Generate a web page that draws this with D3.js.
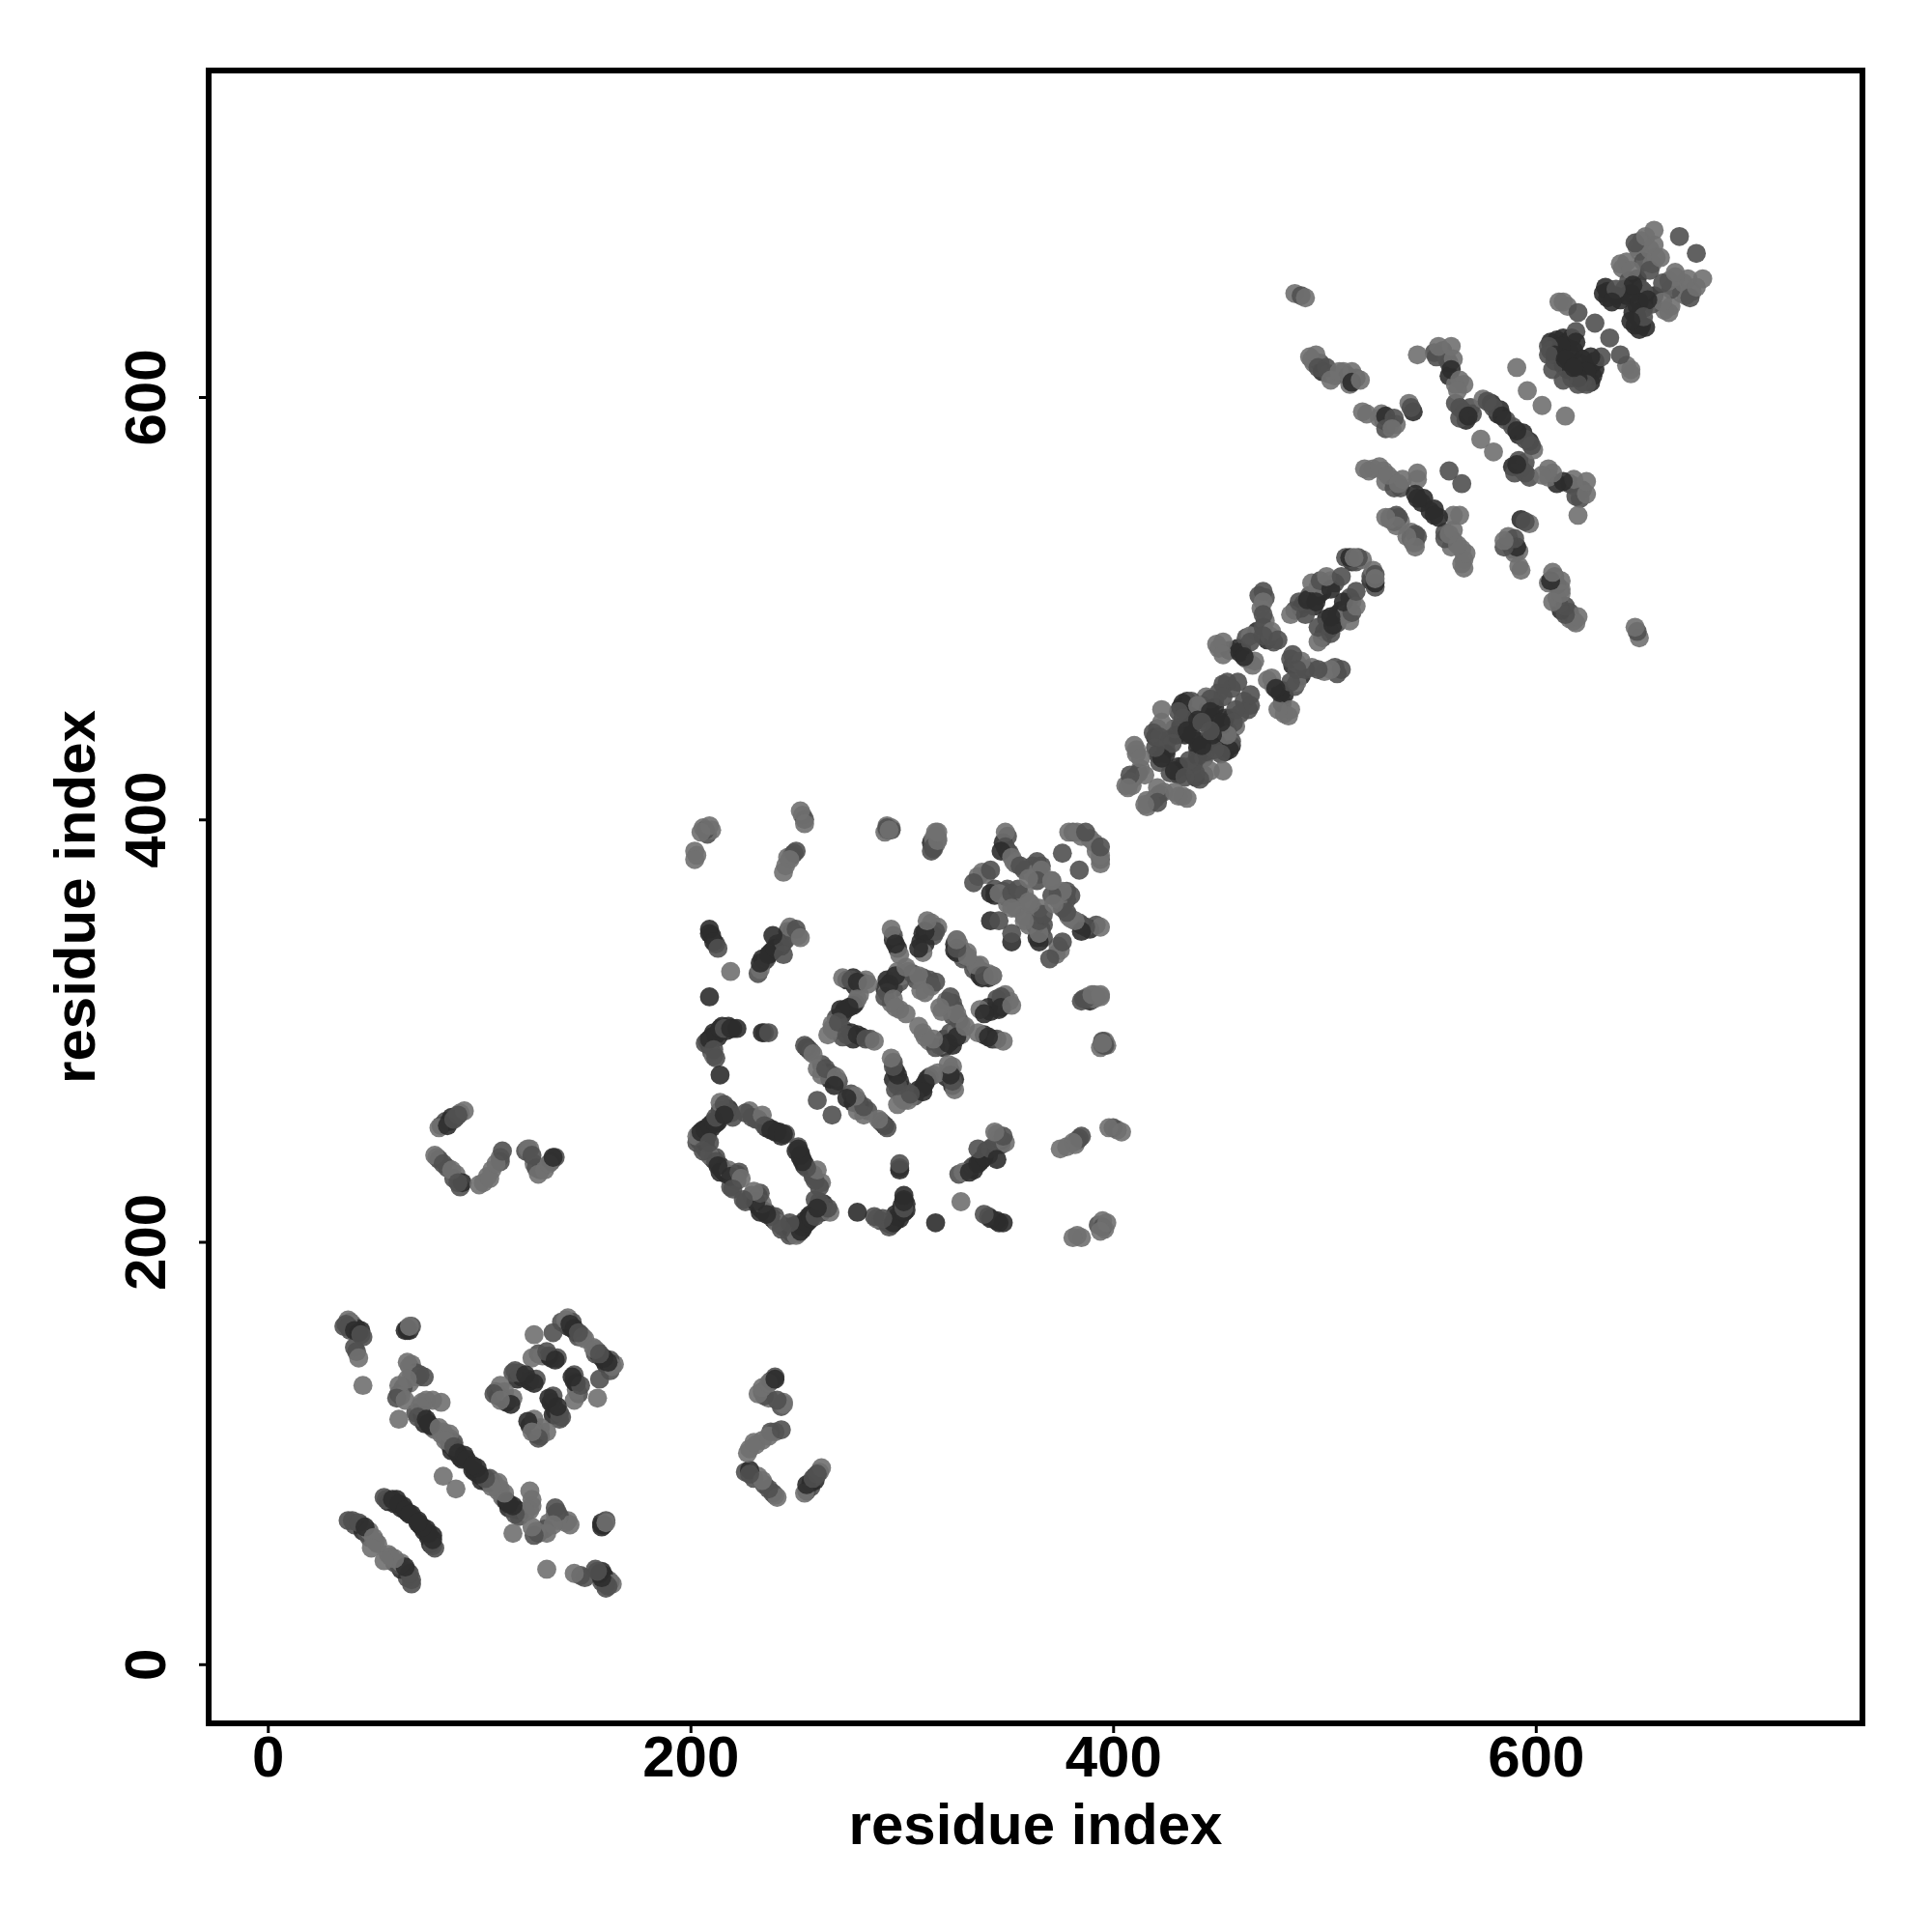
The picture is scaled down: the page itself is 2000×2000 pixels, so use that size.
<!DOCTYPE html>
<html><head><meta charset="utf-8">
<script src="https://cdn.jsdelivr.net/npm/d3@7"></script>
<style>html,body{margin:0;padding:0;background:#fff}svg{display:block}</style>
</head><body><svg id="c" width="2000" height="2000"></svg>
<script>
// Contacts [residue i, residue j, shade level 0 light .. 2 dark]; the map is symmetric.
const contactsDomain1 = [[38,163,0],[37,161,1],[38,160,1],[41,158,2],[43,157,2],[44,156,1],[42,148,1],[43,145,0],[45,132,0],[66,159,2],[67,160,0],[66,143,0],[72,137,1],[74,136,1],[66,135,0],[62,132,0],[61,126,1],[65,125,0],[62,116,0],[75,125,0],[82,124,0],[72,122,0],[71,117,1],[75,116,2],[77,113,2],[76,114,2],[81,112,0],[86,109,0],[84,106,0],[88,103,1],[90,100,2],[93,99,2],[94,97,2],[83,89,0],
[126,156,0],[135,157,1],[141,163,0],[143,161,2],[145,159,2],[149,155,0],[147,157,1],[125,145,0],[132,148,1],[136,144,2],[119,138,1],[116,138,1],[122,137,2],[126,133,2],[110,132,0],[107,128,1],[115,123,2],[110,125,0],
[56,78,1],[59,78,2],[62,76,2],[65,73,2],[67,71,2],[40,68,1],[43,67,1],[46,65,2],[50,60,0],[49,55,0]];
const extraDomain1 = [[39,162,1],[40,161,0],[40,159,2],[42,159,2],[44,158,2],[45,155,1],[36,160,1],[39,158,1],[41,150,1],[66,158,1],[65,158,2],[67,158,2],[68,160,1],[67,141,0],[68,142,0],[70,138,1],[71,136,0],[68,137,0],[67,133,0],[64,131,1],[62,128,1],[63,127,0],[73,124,0],[78,125,0],[70,119,1],[73,118,2],[74,114,2],[78,112,1],[79,111,0],[82,109,0],[84,108,0],[86,107,0],[83,110,0],[86,104,1],[87,101,2],[89,101,2],[91,98,2],[92,97,2],[88,105,1],
[139,162,1],[142,164,0],[144,159,2],[146,157,2],[147,155,1],[148,156,2],[142,160,2],[144,162,1],[150,154,0],[128,147,1],[130,146,0],[134,145,2],[137,145,1],[133,146,2],[120,136,2],[123,135,1],[124,134,2],[127,135,1],[117,139,1],[118,135,2],[108,129,1],[109,127,2],[111,126,2],[113,124,2],[116,126,0],[112,129,0],
[55,79,1],[57,77,2],[60,76,2],[61,78,2],[63,74,2],[64,75,2],[66,72,2],[68,71,2],[38,68,1],[41,66,1],[44,66,1],[45,63,2],[47,62,1],[48,60,1],[48,63,0],[51,58,0],[52,57,0]];
const contactsDomain1to2 = [[81,254,0],[85,255,2],[88,258,1],[93,262,0],[90,260,1],[79,241,0],[83,237,1],[87,234,0],[90,228,1],[102,228,0],[105,230,0],[108,237,0],[111,243,1],[123,244,0],[125,241,1],[128,232,0],[133,237,0],[135,240,2]];
const extraDomain1to2 = [[82,255,1],[84,257,1],[86,257,2],[87,259,2],[89,259,1],[91,261,0],[80,240,0],[81,239,1],[85,235,1],[89,232,0],[88,230,1],[91,226,1],[92,228,2],[100,227,0],[104,231,0],[106,234,0],[110,240,0],[110,238,1],[122,243,1],[124,244,0],[126,237,0],[127,235,1],[129,234,1],[131,234,0],[134,238,1],[136,240,1]];
const contactsRing = [[203,250,0],[205,252,2],[207,253,2],[209,255,2],[211,257,2],[212,259,1],[214,266,0],[216,265,1],[219,261,1],[216,260,2],[226,261,1],[229,259,1],[234,260,0],[235,255,1],[238,253,2],[241,252,2],[244,251,2],[209,241,0],[212,238,1],[214,233,2],[218,234,0],[219,231,2],[223,233,1],[224,230,0],[220,225,1],[209,247,1],[213,236,2],[206,243,1]];
const extraRing = [[204,251,2],[206,253,2],[208,254,2],[210,254,2],[210,256,1],[212,256,2],[213,257,2],[215,262,1],[214,262,2],[217,262,1],[218,263,2],[220,259,1],[228,262,0],[231,258,1],[232,258,1],[236,254,2],[237,254,2],[239,253,2],[240,252,2],[242,252,2],[243,250,2],[245,251,1],[207,244,1],[208,243,1],[210,240,1],[211,239,2],[212,240,1],[214,236,2],[215,234,2],[216,233,2],[217,232,2],[221,232,1],[220,230,2],[222,232,2],[219,226,1],[222,229,1],[204,248,2],[206,249,2],[203,247,1],[207,247,2],[208,250,2]];
const contactsDomain2 = [[209,316,2],[207,294,1],[209,296,2],[212,298,2],[214,301,2],[216,301,1],[219,301,2],[222,301,2],[211,291,1],[212,287,1],[214,279,2],[234,299,2],[237,299,1],[219,328,0],
[233,329,0],[233,332,2],[237,336,2],[240,339,2],[244,342,1],[247,349,0],[250,348,1],[252,344,0],[239,345,2],[244,336,1],[209,348,2],[211,342,2],[213,339,1],[202,385,0],[202,381,0],[207,395,1],[209,397,0],[205,394,0],[252,404,0],
[254,398,0],[249,384,1],[247,381,0],[244,375,0],[293,397,0],[294,395,1],[316,394,0],[315,388,1],[315,391,0],
[295,348,0],[297,341,2],[316,347,1],[311,347,2],[308,339,2],[312,352,0],[326,343,0],[329,336,0],[326,337,2],[335,331,0],[339,326,1],[343,326,0],
[272,325,0],[276,324,1],[279,323,2],[284,322,0],[279,315,0],[275,311,2],[271,310,2],[267,303,0],[265,298,0],[270,304,1],[274,298,1],[279,298,2],[283,296,1],[287,295,0],
[294,322,2],[297,326,2],[302,330,0],[308,326,0],[316,323,1],[311,318,0],[296,315,0],[297,311,0],[302,308,0],
[254,293,1],[258,289,0],[260,282,0],[264,282,1],[269,278,0],[268,274,2],[260,267,1],[387,315,1],[390,317,0],[394,317,0],[396,293,1],[395,294,0]];
const extraDomain2 = [[208,295,2],[210,297,2],[211,299,2],[213,297,2],[215,302,2],[217,300,2],[218,302,2],[220,301,2],[209,293,2],[210,290,1],[211,288,0],[235,299,1],[209,346,2],[210,345,2],[212,341,1],[203,383,0],[206,396,0],[208,393,1],[210,395,0],[234,334,2],[235,333,2],[236,334,1],[238,337,2],[239,338,2],[241,341,1],[243,340,2],[245,343,1],[246,347,1],[248,347,2],[249,346,1],[251,345,0],[232,327,1],[248,383,2],[245,378,0],[246,382,0],[250,385,1],[253,402,0],[254,400,1],[293,395,2],[295,396,0],[314,389,2],[316,392,0],[317,391,0],[315,386,1],
[296,343,2],[298,339,2],[296,345,1],[299,336,0],[310,346,2],[309,342,2],[312,348,1],[314,351,0],[317,349,0],[315,345,1],[311,341,2],[310,337,0],[325,341,2],[327,339,0],[328,338,1],[330,335,0],[334,329,1],[337,328,1],[338,325,2],[341,327,0],[337,331,0],
[274,324,2],[277,325,2],[278,321,2],[281,323,1],[283,324,0],[280,317,0],[278,313,1],[277,312,2],[273,310,2],[272,308,2],[269,306,1],[268,300,0],[272,301,1],[276,299,2],[277,296,2],[281,297,2],[285,296,1],[272,297,1],[267,301,0],
[292,320,2],[293,324,2],[295,323,2],[296,320,2],[298,328,0],[299,323,1],[300,326,0],[303,328,0],[305,327,1],[307,324,1],[310,325,1],[313,324,1],[314,321,0],[309,319,0],[293,318,0],[295,313,0],[299,310,0],[292,316,1],
[256,291,0],[255,292,2],[257,290,1],[262,284,1],[265,280,2],[267,279,1],[266,277,2],[270,276,1],[262,279,0],[388,316,0],[385,314,1],[392,316,0],[395,295,1],[394,292,0]];
const contactsDomain3 = [[349,394,0],[349,387,1],[347,385,2],[352,382,0],[356,378,1],[366,378,1],[366,376,0],[364,371,1],[376,384,1],[338,375,0],[342,376,1],[334,370,1],[342,365,2],[346,365,0],[352,365,1],[358,365,0],[355,367,1],[352,358,0],[342,352,2],[346,352,1],[379,394,0],[383,394,0],[387,394,1],[360,372,0],[361,360,0],[371,371,0],
[471,508,1],[471,503,0],[471,497,1],[465,487,0],[471,491,1],[475,489,0],[478,485,1],[449,483,0],[452,484,0],[452,478,0],[460,479,2],[467,475,0],[465,484,1],[471,487,1],[462,477,2],
[452,464,1],[459,465,1],[452,458,1],[446,457,1],[433,455,2],[431,451,1],[440,454,0],[446,451,2],[423,452,0],[423,446,0],[433,448,1],[440,447,2],[435,442,2],[419,441,1],[422,439,1],[428,436,1],[423,429,2],[420,434,1],[410,435,0],[413,429,0],[415,421,0],[408,421,1],[407,415,0],[442,446,1],
[484,497,0],[491,497,1],[488,503,1],[492,504,2],[496,503,2],[494,512,0],[498,513,1],[503,509,2],[501,515,0],[508,515,1],[512,524,2],[516,524,1],[514,524,0]];
const extraDomain3 = [[350,392,1],[348,389,2],[350,385,2],[351,384,1],[353,380,0],[354,379,0],[358,376,1],[360,376,1],[362,378,1],[364,380,1],[363,376,1],[365,374,0],[362,374,0],[336,373,0],[340,374,0],[344,367,1],[344,364,2],[348,366,1],[350,367,1],[350,363,2],[354,363,1],[356,364,1],[350,360,0],[354,358,0],[381,394,1],[385,392,0],[389,391,0],
[450,481,0],[455,480,1],[459,481,2],[461,480,2],[463,476,0],[466,473,0],[463,486,1],[468,489,2],[470,488,1],[473,485,2],[474,487,0],[476,484,1],[469,506,1],[472,505,1],[470,500,0],[472,494,0],
[454,465,1],[456,462,1],[450,460,1],[448,456,1],[444,458,0],[435,456,2],[434,452,1],[432,453,2],[438,453,1],[437,456,1],[442,454,1],[445,452,2],[448,453,2],[436,449,2],[438,446,2],[432,444,2],[434,440,2],[437,440,2],[421,443,1],[420,439,2],[424,437,2],[426,438,1],[425,433,1],[425,431,2],[421,431,2],[422,427,1],[411,433,0],[411,431,0],[413,424,0],[410,420,1],[412,422,1],[408,418,0],[406,416,0],[409,416,0],[443,448,2],[430,440,2],[429,443,1],
[486,499,1],[489,500,2],[490,502,2],[493,506,1],[495,501,2],[497,506,2],[499,508,2],[500,511,1],[503,513,0],[505,512,1],[497,510,0],[513,522,2],[515,522,1],[510,524,1],[518,523,0]];
const contactsDomain4 = [[493,619,0],[496,620,0],[497,614,1],[501,614,1],[503,608,0],[507,612,0],[513,612,0],[513,607,2],[517,608,0],[518,593,0],[526,590,0],[529,591,2],[533,590,1],[529,585,1],[532,585,0],[541,595,1],[544,620,0],[553,619,1],[554,624,0],[560,624,0],[561,618,0],[560,613,2],[564,608,0],[563,603,0],[564,595,1],[564,590,1],[568,591,2],[574,580,0],[577,598,1],[580,595,1],[584,591,2],[591,614,0],[596,603,0],
[519,566,0],[526,567,0],[530,563,0],[535,559,0],[544,564,0],[544,552,2],[531,543,0],[535,543,1],[544,534,1],[539,534,0],[543,529,0],[559,565,1],[486,649,0],[489,648,1],[491,647,0]];
const extraDomain4 = [[494,618,0],[495,616,0],[498,616,1],[499,612,2],[502,611,1],[505,610,0],[509,612,0],[511,610,1],[515,609,1],[512,606,0],[520,592,0],[527,592,0],[528,589,1],[530,588,1],[531,587,2],[534,587,0],[540,597,0],[542,593,2],[552,621,1],[556,622,1],[558,618,0],[559,616,1],[559,610,2],[562,606,0],[566,606,0],[562,597,1],[566,593,1],[567,589,2],[570,592,1],[569,595,1],[575,599,0],[579,597,2],[582,592,2],[583,594,2],[586,589,1],
[521,565,0],[523,566,0],[528,565,0],[532,561,0],[529,560,0],[533,557,1],[536,557,1],[537,561,0],[544,561,0],[543,554,2],[546,550,2],[547,552,2],[533,541,0],[536,541,0],[541,533,2],[542,531,0]];
const contactsDomain5 = [[613,645,0],[620,640,1],[628,635,1],[619,631,1],[619,626,2],[612,624,2],[606,624,1],[609,620,2],[606,620,1],[608,613,1],[614,618,2],
[640,663,0],[647,673,1],[652,676,0],[656,679,0],[668,676,1],[657,666,0],[645,660,0],[654,660,1],[659,666,0],[646,653,2],[634,650,2],[632,649,2],[640,646,2],[638,651,1],[636,645,2]];
const extraDomain5 = [[615,643,0],[611,645,0],[607,626,2],[610,627,2],[613,628,2],[615,626,2],[617,628,2],[618,622,2],[616,621,2],[612,619,2],[611,622,2],[607,622,1],[609,617,1],[613,615,2],[641,661,0],[643,664,0],[648,671,0],[650,674,0],[649,669,0],[651,664,1],[655,663,0],[644,655,1],[648,656,2],[650,651,1],[642,651,1],[643,648,2],[634,647,2],[638,648,2],[645,649,2],[633,652,2],[654,670,0],[656,672,0]];
const xTicks = [0,200,400,600];
const yTicks = [0,200,400,600];
const axisTitle = "residue index";

const shadeFill = ["#707070","#505050","#2c2c2c"];
const contacts = [extraDomain1,extraDomain1to2,extraRing,extraDomain2,extraDomain3,extraDomain4,extraDomain5,
  contactsDomain1,contactsDomain1to2,contactsRing,contactsDomain2,contactsDomain3,contactsDomain4,contactsDomain5].flat();
const points = contacts.flatMap(([i,j,s]) => [{x:i,y:j,s},{x:j,y:i,s}]);

const L=216,R=1928,T=73,B=1784;
const x = d3.scaleLinear().domain([-28,754.6]).range([L,R]);
const y = d3.scaleLinear().domain([-28,754.6]).range([B,T]);
const svg = d3.select("#c");
const font = "'Liberation Sans', Arial, sans-serif";

svg.append("g").selectAll("circle").data(points).join("circle")
  .attr("cx",d=>x(d.x)).attr("cy",d=>y(d.y)).attr("r",9.9)
  .attr("fill",d=>shadeFill[d.s]).attr("fill-opacity",0.9);

svg.append("rect").attr("x",L).attr("y",T).attr("width",R-L).attr("height",B-T)
  .attr("fill","none").attr("stroke","#000").attr("stroke-width",6);

const gx = svg.append("g").attr("transform",`translate(0,${B})`)
  .call(d3.axisBottom(x).tickValues(xTicks).tickFormat(d3.format("d")).tickSize(10));
gx.select(".domain").remove();
gx.selectAll("line").attr("stroke","#000").attr("stroke-width",3);
gx.selectAll("text").attr("y",55).attr("dy",0).attr("fill","#000")
  .style("font-family",font).style("font-weight","bold").style("font-size","60px");

const gy = svg.append("g").attr("transform",`translate(${L},0)`)
  .call(d3.axisLeft(y).tickValues(yTicks).tickFormat(d3.format("d")).tickSize(10));
gy.select(".domain").remove();
gy.selectAll("line").attr("stroke","#000").attr("stroke-width",3);
gy.selectAll("text").attr("x",null).attr("dy",0).attr("y",0)
  .attr("text-anchor","middle").attr("fill","#000")
  .attr("transform","translate(-45,0) rotate(-90)")
  .style("font-family",font).style("font-weight","bold").style("font-size","60px");

svg.append("text").text(axisTitle).attr("x",(L+R)/2).attr("y",1909).attr("text-anchor","middle")
  .style("font-family",font).style("font-weight","bold").style("font-size","60px");
svg.append("text").text(axisTitle).attr("transform",`translate(98,${(T+B)/2}) rotate(-90)`).attr("text-anchor","middle")
  .style("font-family",font).style("font-weight","bold").style("font-size","60px");
</script></body></html>
